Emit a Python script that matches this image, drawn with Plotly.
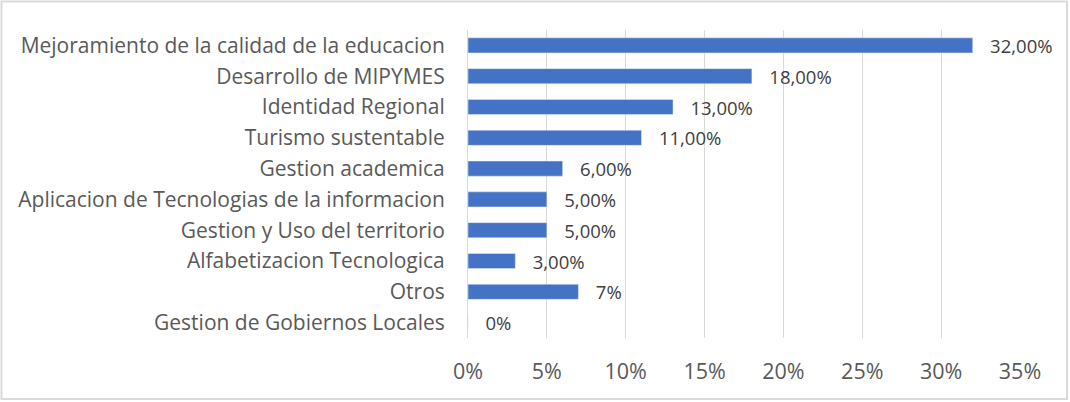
import plotly.graph_objects as go

categories = [
    "Mejoramiento de la calidad de la educacion",
    "Desarrollo de MIPYMES",
    "Identidad Regional",
    "Turismo sustentable",
    "Gestion academica",
    "Aplicacion de Tecnologias de la informacion",
    "Gestion y Uso del territorio",
    "Alfabetizacion Tecnologica",
    "Otros",
    "Gestion de Gobiernos Locales",
]
values = [0.32, 0.18, 0.13, 0.11, 0.06, 0.05, 0.05, 0.03, 0.07, 0.0]
labels = ["32,00%", "18,00%", "13,00%", "11,00%", "6,00%", "5,00%", "5,00%", "3,00%", "7%", "0%"]
tick_vals = [0, 0.05, 0.10, 0.15, 0.20, 0.25, 0.30, 0.35]
tick_text = ["0%", "5%", "10%", "15%", "20%", "25%", "30%", "35%"]

font_family = "Open Sans, Noto Sans, sans-serif"

# plot area in pixels: x 468..1020, y 30..338
L, R, T, B = 468, 1020, 30, 338
W, H = R - L, B - T

fig = go.Figure(
    go.Bar(
        y=categories,
        x=values,
        orientation="h",
        marker=dict(color="#4472C4"),
        width=0.49,
        text=["   " + t for t in labels],
        textposition="outside",
        constraintext="none",
        textfont=dict(size=18.5, color="#404040", family=font_family),
        cliponaxis=False,
    )
)

fig.update_layout(
    width=1070,
    height=402,
    margin=dict(l=L, r=1070 - R, t=T, b=402 - B),
    paper_bgcolor="white",
    plot_bgcolor="white",
    showlegend=False,
    font=dict(family=font_family, color="#595959"),
    xaxis=dict(
        range=[0, 0.35],
        tickvals=tick_vals,
        ticktext=tick_text,
        showgrid=True,
        gridcolor="#D9D9D9",
        gridwidth=1,
        zeroline=False,
        tickfont=dict(size=21.5, color="#595959"),
        ticklen=0,
        ticklabelstandoff=18,
        automargin=False,
    ),
    yaxis=dict(
        autorange="reversed",
        tickfont=dict(size=21, color="#595959"),
        showline=True,
        linecolor="#D9D9D9",
        linewidth=1,
        ticks="",
        ticklabelstandoff=18,
        automargin=False,
    ),
    shapes=[
        dict(
            type="rect",
            xref="paper",
            yref="paper",
            x0=(1.5 - L) / W,
            x1=(1067 - L) / W,
            y0=(B - 399) / H,
            y1=(B - 1.5) / H,
            line=dict(color="#D9D9D9", width=2),
            fillcolor="rgba(0,0,0,0)",
        )
    ],
)

fig.write_html(
    "out.html",
    config={"displayModeBar": False},
    post_script="document.body.style.margin='0';",
)
